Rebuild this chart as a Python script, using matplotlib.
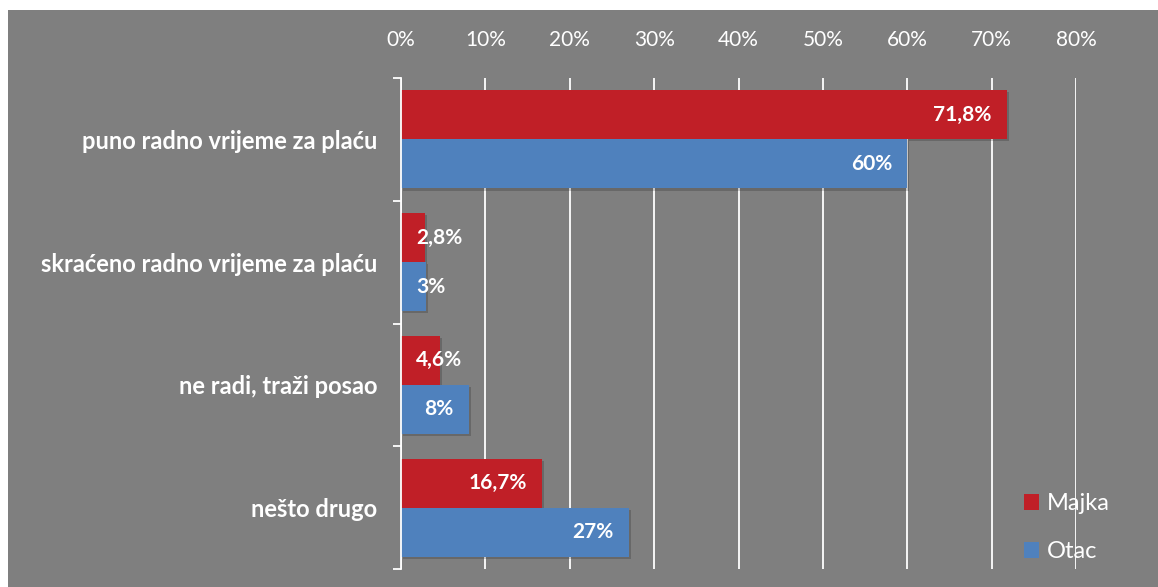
import matplotlib
matplotlib.use("Agg")
import matplotlib.pyplot as plt
import matplotlib.patheffects as pe
from matplotlib.patches import Rectangle, Patch
from matplotlib.ticker import FixedLocator, FuncFormatter

# Employment status of parents (share of respondents, %)
categories = [
    "puno radno vrijeme za plaću",
    "skraćeno radno vrijeme za plaću",
    "ne radi, traži posao",
    "nešto drugo",
]
majka = [71.8, 2.8, 4.6, 16.7]
otac = [60, 3, 8, 27]
majka_labels = ["71,8%", "2,8%", "4,6%", "16,7%"]
otac_labels = ["60%", "3%", "8%", "27%"]
series_names = ["Majka", "Otac"]
x_ticks = [0, 10, 20, 30, 40, 50, 60, 70, 80]

RED = "#C01F27"
BLUE = "#4F81BD"
BG = "#7F7F7F"
FONT = ["Lato", "DejaVu Sans"]

plt.rcParams["font.family"] = FONT

W, H = 1158, 587
fig = plt.figure(figsize=(W / 100, H / 100), dpi=100, facecolor="white")

# grey chart area
fig.patches.append(Rectangle((8 / W, 0), 1 - 8 / W, 1 - 10 / H,
                             transform=fig.transFigure, facecolor=BG,
                             edgecolor="none", zorder=-10))

left, right = 401 / W, 1076 / W
top, bottom = 1 - 78 / H, 1 - 569 / H
ax = fig.add_axes([left, bottom, right - left, top - bottom])
ax.set_facecolor("none")

n = len(categories)
ypos = list(range(n))
bh = 0.4
shadow = [pe.SimplePatchShadow(offset=(1.5, -1.5), shadow_rgbFace="black", alpha=0.18),
          pe.Normal()]

red_bars = ax.barh([y - bh / 2 for y in ypos], majka, height=bh, color=RED,
                   zorder=3, label=series_names[0])
blue_bars = ax.barh([y + bh / 2 for y in ypos], otac, height=bh, color=BLUE,
                    zorder=3, label=series_names[1])
for b in list(red_bars) + list(blue_bars):
    b.set_path_effects(shadow)

ax.set_xlim(0, 80)
ax.set_ylim(n - 0.5, -0.5)

# value labels at the inner end of each bar
def put_labels(vals, labels, offs):
    for v, lab, y in zip(vals, labels, ypos):
        yy = y + offs
        if v < 6:
            ax.annotate(lab, (0, yy), xytext=(11, 0), textcoords="offset points",
                        ha="left", va="center", color="white", fontsize=15,
                        fontweight="bold", zorder=5)
        else:
            ax.annotate(lab, (v, yy), xytext=(-11, 0), textcoords="offset points",
                        ha="right", va="center", color="white", fontsize=15,
                        fontweight="bold", zorder=5)

put_labels(majka, majka_labels, -bh / 2)
put_labels(otac, otac_labels, bh / 2)

# x axis on top, white gridlines
ax.xaxis.set_ticks_position("top")
ax.xaxis.set_major_locator(FixedLocator(x_ticks))
ax.xaxis.set_major_formatter(FuncFormatter(lambda v, p: f"{int(v)}%"))
ax.tick_params(axis="x", length=0, pad=20, labelsize=15, labelcolor="white")
ax.grid(axis="x", color="white", linewidth=1.3, zorder=1)

# category axis
ax.set_yticks(ypos)
ax.set_yticklabels(categories, fontsize=17, fontweight="bold", color="white")
ax.tick_params(axis="y", which="major", length=0, pad=17)
ax.set_yticks([y - 0.5 for y in range(n + 1)], minor=True)
ax.tick_params(axis="y", which="minor", length=6, width=1.3, color="white")

for s in ["top", "right", "bottom"]:
    ax.spines[s].set_visible(False)
ax.spines["left"].set_color("white")
ax.spines["left"].set_linewidth(1.3)
ax.spines["left"].set_zorder(4)

handles = [Patch(facecolor=RED), Patch(facecolor=BLUE)]
leg = fig.legend(handles, series_names, loc="upper left",
                 bbox_to_anchor=(1024 / W, 1 - 493 / H), frameon=False,
                 fontsize=17, labelcolor="white", handlelength=0.65,
                 handleheight=0.65, handletextpad=0.3, labelspacing=1.15,
                 borderpad=0, borderaxespad=0)

fig.savefig("out.png", dpi=100, facecolor="white")
